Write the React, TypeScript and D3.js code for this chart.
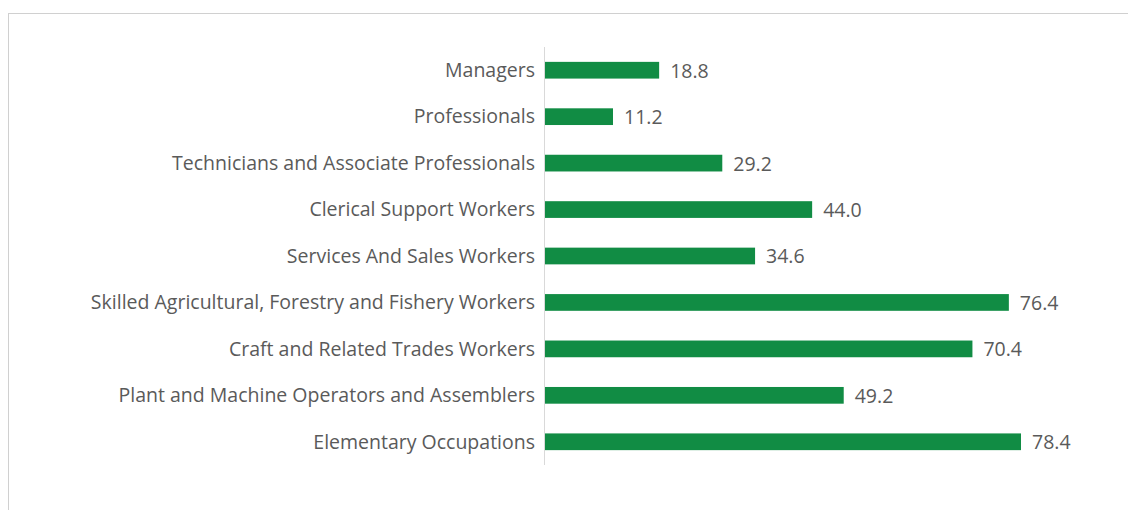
import React from "react";
import * as d3 from "d3";

const categories = [
  "Managers",
  "Professionals",
  "Technicians and Associate Professionals",
  "Clerical Support Workers",
  "Services And Sales Workers",
  "Skilled Agricultural, Forestry and Fishery Workers",
  "Craft and Related Trades Workers",
  "Plant and Machine Operators and Assemblers",
  "Elementary Occupations",
];
const values = [18.8, 11.2, 29.2, 44.0, 34.6, 76.4, 70.4, 49.2, 78.4];

const W = 1128;
const H = 510;
const plotLeft = 545;
const plotTop = 47;
const plotBottom = 465;
const FONT = "'Open Sans', 'Noto Sans', sans-serif";

export default function App() {
  const x = d3.scaleLinear().domain([0, 78.4]).range([plotLeft, 1021]);
  const y = d3
    .scaleBand<string>()
    .domain(categories)
    .range([plotTop, plotBottom])
    .paddingInner(0.64)
    .paddingOuter(0.32);
  return (
    <svg
      width={W}
      height={H}
      style={{ position: "absolute", left: 0, top: 0, background: "#fff" }}
    >
      <rect x={8.5} y={13.5} width={W} height={H} fill="#fff" stroke="#d0d0d0" strokeWidth={1} />
      {categories.map((c, i) => {
        const yy = y(c)!;
        const bw = y.bandwidth();
        const cy = yy + bw / 2;
        return (
          <g key={c}>
            <rect x={x(0)} y={yy} width={x(values[i]) - x(0)} height={bw} fill="#118c44" />
            <text
              x={plotLeft - 10}
              y={cy}
              dy="0.35em"
              textAnchor="end"
              fontFamily={FONT}
              fontSize={19.5}
              fill="#5a5a5a"
            >
              {c}
            </text>
            <text
              x={x(values[i]) + 11}
              y={cy}
              dy="0.38em"
              fontFamily={FONT}
              fontSize={19.5}
              fill="#5a5a5a"
            >
              {values[i].toFixed(1)}
            </text>
          </g>
        );
      })}
      <line x1={544.5} x2={544.5} y1={plotTop} y2={plotBottom} stroke="#d9d9d9" strokeWidth={1} />
    </svg>
  );
}
